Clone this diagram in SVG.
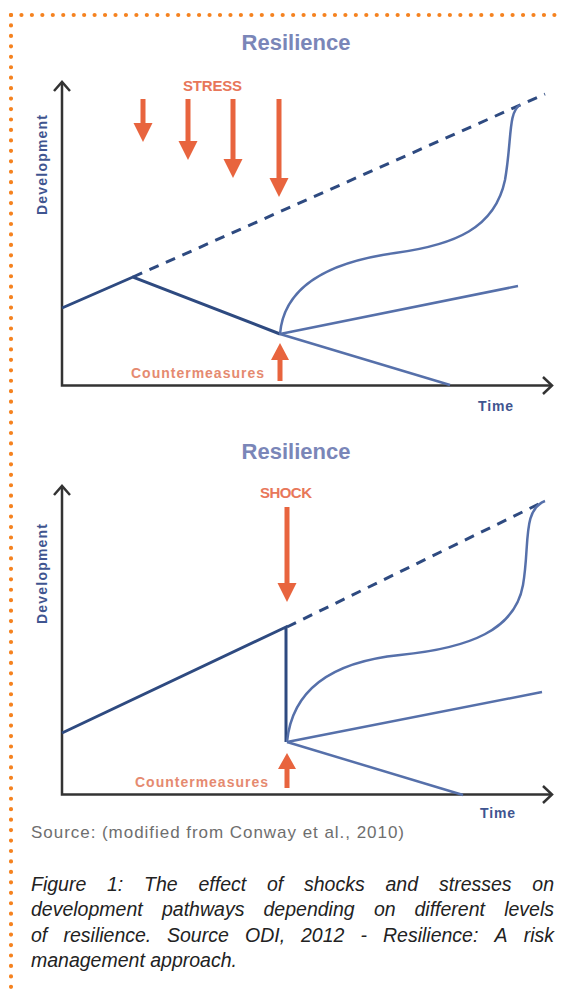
<svg xmlns="http://www.w3.org/2000/svg" width="564" height="992" viewBox="0 0 564 992">
<style>
.title{font-family:"Liberation Sans",Arial,sans-serif;font-weight:bold;font-size:22px;fill:#7a86b8;text-anchor:middle}
.lab{font-family:"Liberation Sans",Arial,sans-serif;font-weight:bold;font-size:15px;fill:#e8775a}
.cm{font-family:"Liberation Sans",Arial,sans-serif;font-weight:bold;font-size:14px;fill:#e58a70;text-anchor:end}
.ax{font-family:"Liberation Sans",Arial,sans-serif;font-weight:bold;font-size:14px;fill:#3f5590}
.axis{fill:none;stroke:#333;stroke-width:2.5}
.main{fill:none;stroke:#2e4a80;stroke-width:3;stroke-linejoin:miter}
.dash{fill:none;stroke:#2e4a80;stroke-width:3;stroke-dasharray:10 8}
.rec{fill:none;stroke:#5670aa;stroke-width:2.5}
.arr{fill:#e8643e}
.dots{stroke:#f5821f;stroke-width:4.2;stroke-linecap:round;stroke-dasharray:0 10.45}
.src{font-family:"Liberation Sans",Arial,sans-serif;font-size:17px;fill:#6e6e6e}
.cap{font-family:"Liberation Sans",Arial,sans-serif;font-style:italic;font-size:19.5px;fill:#222}
.end{text-anchor:end}
</style>
<rect width="564" height="992" fill="#fff"/>
<g id="border">
<line class="dots" x1="11" y1="15" x2="564" y2="15"/>
<line class="dots" x1="11" y1="15" x2="11" y2="992"/>
</g>

<g id="chart-top">
<text class="title" x="296" y="50">Resilience</text>
<g id="axes-top">
<path class="axis" d="M62,82 V385.5 H552"/>
<path class="axis" d="M54,91 L62,82 L70,91"/>
<path class="axis" d="M543,377 L552,385.5 L543,394"/>
<text class="ax" transform="translate(47,165) rotate(-90)" text-anchor="middle" textLength="100">Development</text>
<text class="ax" x="478" y="411" textLength="35">Time</text>
</g>
<g id="stress">
<text class="lab" x="183" y="91" textLength="59">STRESS</text>
<path class="arr" d="M140.5,99 h5 v24 h7 l-9.5,19 l-9.5,-19 h7 z"/>
<path class="arr" d="M185.5,99 h5 v42 h7 l-9.5,19 l-9.5,-19 h7 z"/>
<path class="arr" d="M230.5,99 h5 v60 h7 l-9.5,19 l-9.5,-19 h7 z"/>
<path class="arr" d="M276.5,99 h5 v79 h7 l-9.5,19 l-9.5,-19 h7 z"/>
</g>
<g id="counter-top">
<path class="arr" d="M277.5,381 h5 v-21 h6.5 l-9,-17 l-9,17 h6.5 z"/>
<text class="cm" x="264" y="378" textLength="133">Countermeasures</text>
</g>
</g>

<g id="connectors-top">
<path class="dash" d="M133,277 L545,94"/>
<path class="main" d="M62,308 L133,277 L280,334"/>
<path class="rec" d="M280,334 C284,285 330,262 395,253 C455,245 495,228 505,180 C512,140 508,112 520,105"/>
<path class="rec" d="M280,334 L518,286"/>
<path class="rec" d="M280,334 L450,385"/>
</g>

<g id="chart-bottom">
<text class="title" x="296" y="459">Resilience</text>
<g id="axes-bottom">
<path class="axis" d="M62,486 V794.5 H552"/>
<path class="axis" d="M54,495 L62,486 L70,495"/>
<path class="axis" d="M543,786 L552,794.5 L543,803"/>
<text class="ax" transform="translate(47,574) rotate(-90)" text-anchor="middle" textLength="100">Development</text>
<text class="ax" x="480" y="818" textLength="35">Time</text>
</g>
<g id="shock">
<text class="lab" x="260" y="498" textLength="52">SHOCK</text>
<path class="arr" d="M284.5,507 h5 v76 h7 l-9.5,19 l-9.5,-19 h7 z"/>
</g>
<g id="counter-bottom">
<path class="arr" d="M284.5,788 h5 v-19 h6.5 l-9,-16 l-9,16 h6.5 z"/>
<text class="cm" x="268" y="787" textLength="133">Countermeasures</text>
</g>
</g>

<g id="connectors-bottom">
<path class="dash" d="M287,627 L545,501"/>
<path class="main" d="M62,733 L286,627 L286,742"/>
<path class="rec" d="M287,742 C292,690 330,662 400,655 C470,648 515,630 523,585 C530,545 522,510 545,501"/>
<path class="rec" d="M287,742 L542,692"/>
<path class="rec" d="M287,742 L463,795"/>
</g>

<g id="source">
<text class="src" x="31" y="838" textLength="373">Source: (modified from Conway et al., 2010)</text>
</g>

<g id="caption" class="cap">
<text y="891"><tspan x="31">Figure</tspan><tspan x="107">1:</tspan><tspan x="144">The</tspan><tspan x="198.5">effect</tspan><tspan x="267">of</tspan><tspan x="304">shocks</tspan><tspan x="385.5">and</tspan><tspan x="439">stresses</tspan></text>
<text class="end" x="554" y="891">on</text>
<text y="916"><tspan x="31">development</tspan><tspan x="162">pathways</tspan><tspan x="263.5">depending</tspan><tspan x="374">on</tspan><tspan x="414.5">different</tspan></text>
<text class="end" x="554" y="916">levels</text>
<text y="942"><tspan x="31">of</tspan><tspan x="63.5">resilience.</tspan><tspan x="167">Source</tspan><tspan x="245">ODI,</tspan><tspan x="301">2012</tspan><tspan x="360.5">-</tspan><tspan x="383">Resilience:</tspan><tspan x="494.5">A</tspan></text>
<text class="end" x="554" y="942">risk</text>
<text y="967" x="31">management approach.</text>
</g>
</svg>
